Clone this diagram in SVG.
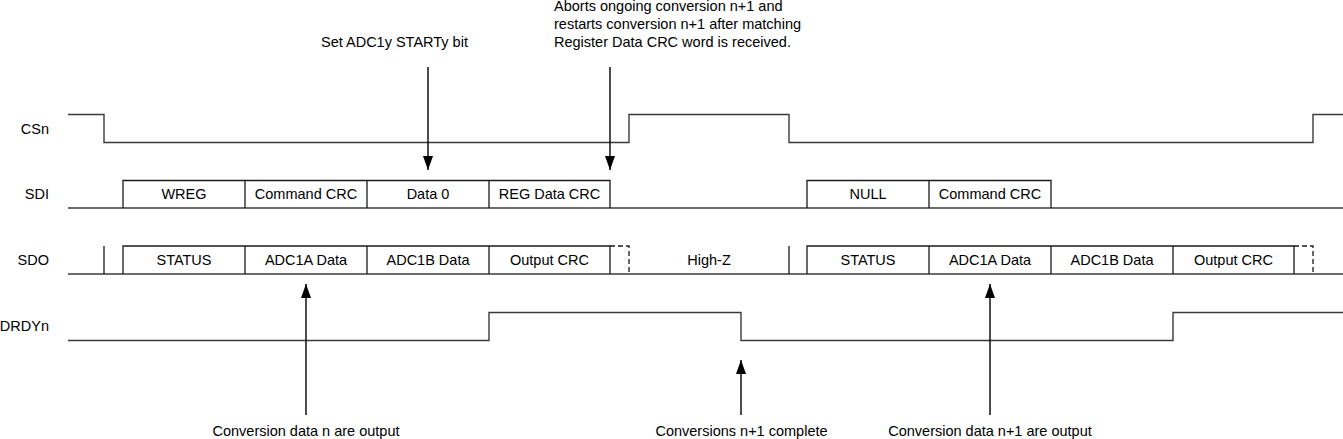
<svg xmlns="http://www.w3.org/2000/svg" width="1343" height="439" viewBox="0 0 1343 439">
<style>
text{font-family:"Liberation Sans",Arial,sans-serif;font-size:14.5px;fill:#000}
.m{text-anchor:middle}
.e{text-anchor:end}
.sig{fill:none;stroke:#3a3a3a;stroke-width:1.4}
.box{fill:none;stroke:#1a1a1a;stroke-width:1.3}
.dash{fill:none;stroke:#1a1a1a;stroke-width:1.3;stroke-dasharray:5,3}
.arr{stroke:#000;stroke-width:1.4;fill:none}
</style>
<defs>
<marker id="ah2" viewBox="0 0 14 10" refX="14" refY="5" markerWidth="14" markerHeight="10" markerUnits="userSpaceOnUse" orient="auto">
<path d="M0,0 L14,5 L0,10 Z" fill="#000"/>
</marker>
</defs>
<g id="labels">
<text class="e" x="49" y="134">CSn</text>
<text class="e" x="49" y="199">SDI</text>
<text class="e" x="49" y="265">SDO</text>
<text class="e" x="49" y="331">DRDYn</text>
</g>
<g id="csn">
<path class="sig" d="M68,114.5 H104 V142.5 H629 V114.5 H789 V142.5 H1313 V114.5 H1343"/>
</g>
<g id="sdi">
<path class="sig" d="M68,208 H1343"/>
<path class="box" d="M123,208 V180.5 H610 V208 M245,180.5 V208 M367,180.5 V208 M489,180.5 V208"/>
<path class="box" d="M807,208 V180.5 H1051 V208 M929,180.5 V208"/>
<text class="m" x="184" y="199">WREG</text>
<text class="m" x="306" y="199">Command CRC</text>
<text class="m" x="428" y="199">Data 0</text>
<text class="m" x="549.5" y="199">REG Data CRC</text>
<text class="m" x="868" y="199">NULL</text>
<text class="m" x="990" y="199">Command CRC</text>
</g>
<g id="sdo">
<path class="sig" d="M68,274 H1343"/>
<path class="box" d="M104,246 V274"/>
<path class="box" d="M123,274 V246 H610 V274 M245,246 V274 M367,246 V274 M489,246 V274"/>
<path class="dash" d="M610,246 H629 V274"/>
<path class="box" d="M789,246 V274"/>
<path class="box" d="M807,274 V246 H1294 V274 M929,246 V274 M1051,246 V274 M1173,246 V274"/>
<path class="dash" d="M1294,246 H1313 V274"/>
<text class="m" x="184" y="265">STATUS</text>
<text class="m" x="306" y="265">ADC1A Data</text>
<text class="m" x="428" y="265">ADC1B Data</text>
<text class="m" x="549.5" y="265">Output CRC</text>
<text class="m" x="709" y="265">High-Z</text>
<text class="m" x="868" y="265">STATUS</text>
<text class="m" x="990" y="265">ADC1A Data</text>
<text class="m" x="1112" y="265">ADC1B Data</text>
<text class="m" x="1233.5" y="265">Output CRC</text>
</g>
<g id="drdyn">
<path class="sig" d="M68,340.5 H489 V312.5 H741 V340.5 H1173 V312.5 H1343"/>
</g>
<g id="connectors">
<line class="arr" x1="428" y1="67" x2="428" y2="170" marker-end="url(#ah2)"/>
<line class="arr" x1="610" y1="67" x2="610" y2="170" marker-end="url(#ah2)"/>
<line class="arr" x1="306" y1="415" x2="306" y2="284" marker-end="url(#ah2)"/>
<line class="arr" x1="741" y1="415" x2="741" y2="360" marker-end="url(#ah2)"/>
<line class="arr" x1="990" y1="415" x2="990" y2="284" marker-end="url(#ah2)"/>
</g>
<g id="annotations">
<text x="321" y="47">Set ADC1y STARTy bit</text>
<text x="554" y="11">Aborts ongoing conversion n+1 and</text>
<text x="554" y="29">restarts conversion n+1 after matching</text>
<text x="554" y="47">Register Data CRC word is received.</text>
<text class="m" x="306" y="436">Conversion data n are output</text>
<text class="m" x="741.5" y="436">Conversions n+1 complete</text>
<text class="m" x="990" y="436">Conversion data n+1 are output</text>
</g>
</svg>
